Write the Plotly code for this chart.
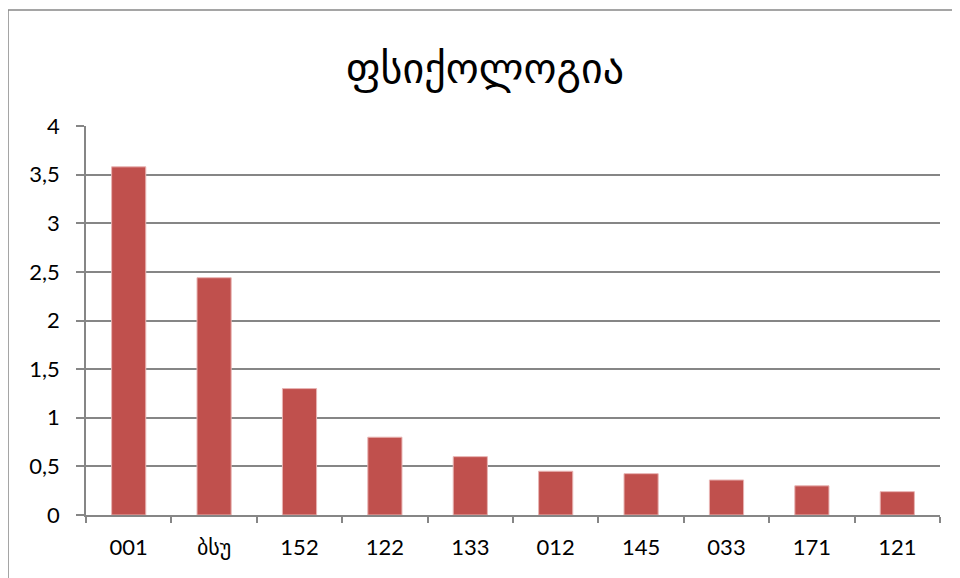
import plotly.graph_objects as go

categories = ["001", "ბსუ", "152", "122", "133", "012", "145", "033", "171", "121"]
values = [3.58, 2.44, 1.30, 0.80, 0.60, 0.45, 0.425, 0.36, 0.30, 0.24]
y_ticks = [0, 0.5, 1, 1.5, 2, 2.5, 3, 3.5, 4]
title_text = "ფსიქოლოგია"

# page body has an 8px offset, so figure coords = screen coords - 8
L, T, B, R = 78, 118, 507, 932
W, H = 960, 578

fig = go.Figure(go.Bar(
    x=categories, y=values,
    marker=dict(color="#C0504D", line=dict(color="#E8B4B3", width=1)),
    width=0.4,
))

fig.update_layout(
    width=W, height=H,
    margin=dict(l=L, r=W - R, t=T, b=H - B, autoexpand=False),
    paper_bgcolor="white", plot_bgcolor="white",
    separators=", ",
    font=dict(family="Lato, DejaVu Sans, sans-serif", size=22, color="black"),
    title=dict(text=title_text, x=(485 - 8) / W, xanchor="center", y=1 - 60 / H, yanchor="middle",
               yref="container", xref="container",
               font=dict(family="DejaVu Sans", size=42, color="black")),
    showlegend=False,
    bargap=0.6,
)
fig.update_xaxes(
    type="category", showline=True, linecolor="#868686", linewidth=1.5,
    ticks="outside", tickson="boundaries", ticklen=6, tickcolor="#868686", tickwidth=1.5,
    ticklabelstandoff=12, showgrid=False, automargin=False,
    tickfont=dict(family="Lato, DejaVu Sans, sans-serif", size=22),
)
fig.update_yaxes(
    range=[0, 4], tickvals=y_ticks, showline=True, linecolor="#868686", linewidth=1.5,
    ticks="outside", ticklen=8, tickcolor="#868686", tickwidth=1.5,
    showgrid=True, gridcolor="#868686", gridwidth=1.5, zeroline=False,
    ticklabelstandoff=12, automargin=False,
    tickfont=dict(family="Lato, DejaVu Sans, sans-serif", size=22),
)
fig.add_shape(type="rect", xref="paper", yref="paper",
              x0=(0 - L) / (R - L), x1=1.2, y0=-0.3, y1=(B - 2) / (B - T),
              line=dict(color="#888888", width=1.5), layer="below")

fig.write_html("out.html")
